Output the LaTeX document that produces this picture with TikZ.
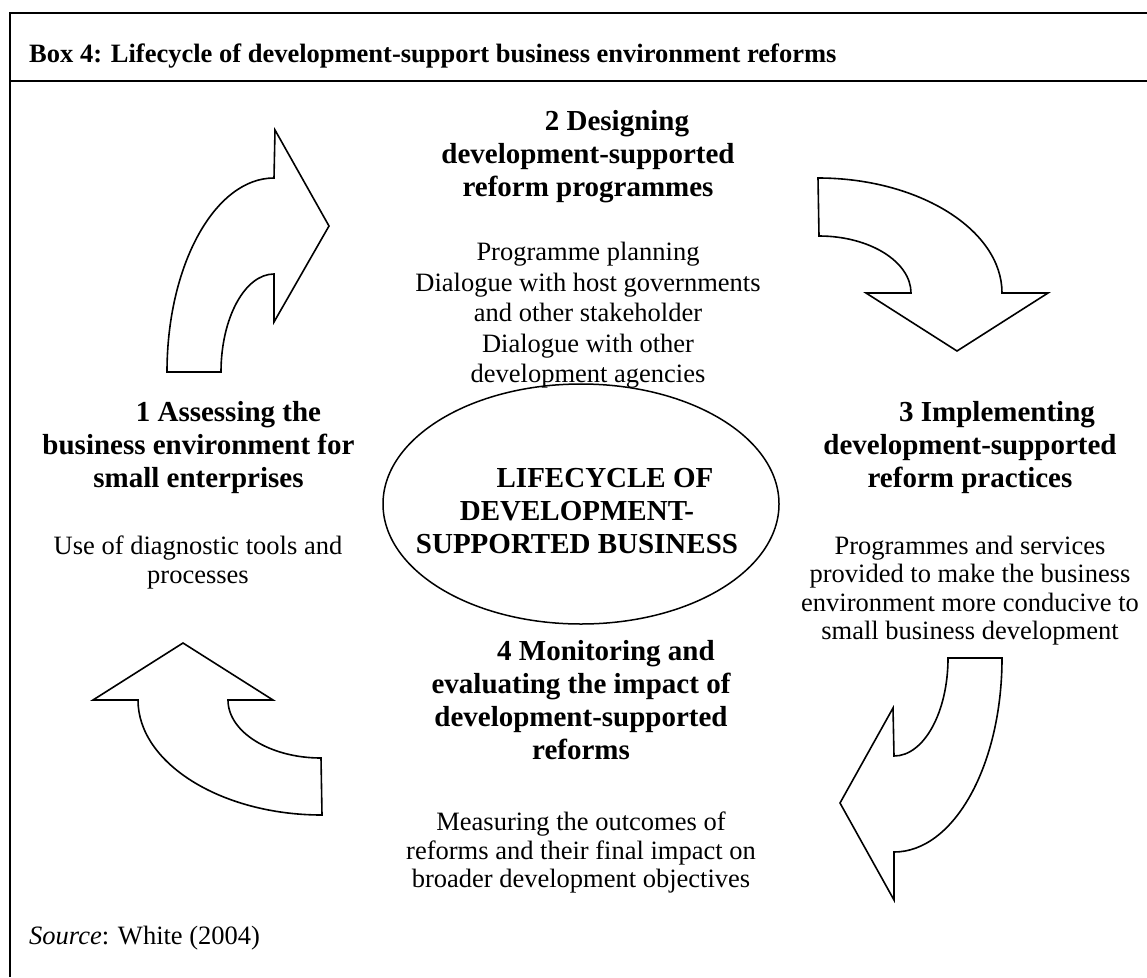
\documentclass[tikz,border=0pt]{standalone}
\usepackage{fontspec}
\setmainfont{Liberation Serif}
\usetikzlibrary{shapes.geometric}
\tikzset{
  frame/.style = {line width=2pt},
  bigarrow/.style = {draw, line width=1.6pt, fill=white},
  hub/.style = {draw, ellipse, line width=1.5pt, inner sep=0pt,
                minimum width=396pt, minimum height=240pt},
  hubtext/.style = {align=center, inner sep=0pt,
                    font=\fontsize{29}{33}\selectfont\bfseries},
  heading/.style = {align=center, inner sep=0pt, anchor=north,
                    font=\fontsize{29}{33}\selectfont\bfseries},
  body/.style = {align=center, inner sep=0pt, anchor=north,
                 font=\fontsize{26.5}{28.3}\selectfont}
}

\begin{document}
\begin{tikzpicture}[x=1pt, y=-1pt]
  \useasboundingbox (0,0) rectangle (1147,977);
  % box and title bar
  \draw[frame] (10,977) -- (10,13) -- (1147,13);
  \draw[frame] (10,80.5) -- (1147,80.5);
  \node[anchor=base west, inner sep=0pt, font=\fontsize{26.5}{30}\selectfont\bfseries]
    (title) at (29,62.5) {Box 4: Lifecycle of development-support business environment reforms};

  % centre of the cycle
  \node[hub] (cycle) at (581,504) {};
  \node[hubtext] (cyclelabel) at (577,511)
    {\hspace*{56pt}LIFECYCLE OF\\DEVELOPMENT-\\SUPPORTED BUSINESS};

  % the four stages
  \node[heading] (assess) at (198.5,401)
    {\hspace*{60pt}1 Assessing the\\business environment for\\small enterprises};
  \node[body] (assesstext) at (198,536) {Use of diagnostic tools and\\processes};

  \node[heading] (design) at (588,110)
    {\hspace*{58pt}2 Designing\\development-supported\\reform programmes};
  \node[body, font=\fontsize{26.5}{30.5}\selectfont] (designtext) at (588,242)
    {Programme planning\\Dialogue with host governments\\and other stakeholder\\Dialogue with other\\development agencies};

  \node[heading] (implement) at (970,401)
    {\hspace*{54pt}3 Implementing\\development-supported\\reform practices};
  \node[body] (implementtext) at (970,536)
    {Programmes and services\\provided to make the business\\environment more conducive to\\small business development};

  \node[heading] (monitor) at (581,640)
    {\hspace*{50pt}4 Monitoring and\\evaluating the impact of\\development-supported\\reforms};
  \node[body] (monitortext) at (581,812)
    {Measuring the outcomes of\\reforms and their final impact on\\broader development objectives};

  \node[anchor=base west, inner sep=0pt, font=\fontsize{26.5}{30}\selectfont]
    (source) at (29,944) {\textit{Source}: White (2004)};

  % curved block arrows between the stages
  \draw[bigarrow] (167,372) -- (221,372)
    .. controls (221,318) and (245,274) .. (274,274)
    -- (274,322) -- (329,226) -- (275,130) -- (274,178)
    .. controls (215,178) and (167,265) .. (167,372) -- cycle;
  \draw[bigarrow] (818,178) -- (819,236)
    .. controls (870,236) and (911,262) .. (911,293)
    -- (866,293) -- (957,351) -- (1048,293) -- (1002,293)
    .. controls (1002,230) and (919,178) .. (818,178) -- cycle;
  \draw[bigarrow] (948,658) -- (1002,658)
    .. controls (1002,765) and (954,852) .. (894,852)
    -- (894,900) -- (840,803) -- (893,708) -- (894,756)
    .. controls (924,756) and (948,712) .. (948,658) -- cycle;
  \draw[bigarrow] (183,643) -- (93,700) -- (138,700)
    .. controls (138,763) and (221,815) .. (322,815)
    -- (321,758)
    .. controls (270,758) and (228,732) .. (228,700)
    -- (273,700) -- cycle;
\end{tikzpicture}
\end{document}
